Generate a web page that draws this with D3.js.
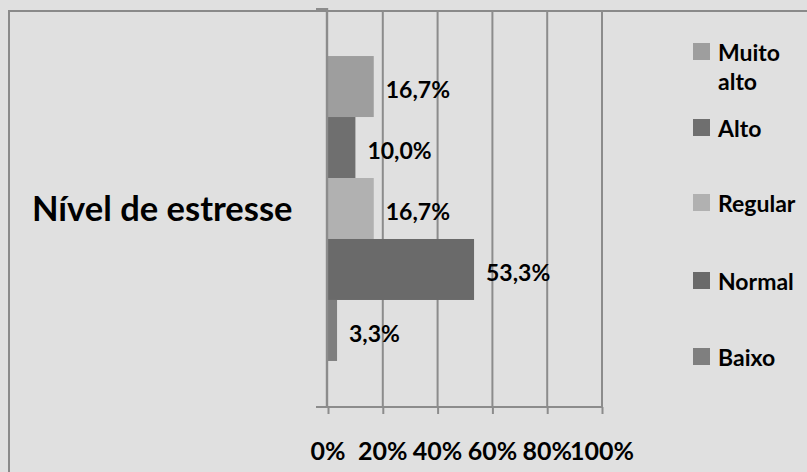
<!DOCTYPE html>
<html>
<head>
<meta charset="utf-8">
<script src="https://cdn.jsdelivr.net/npm/d3@7/dist/d3.min.js"></script>
<style>
  html, body { margin: 0; padding: 0; background: #e0e0e0; }
  svg { display: block; }
  text { font-family: Lato, "Open Sans", sans-serif; font-weight: bold; fill: #000; }
</style>
</head>
<body>
<svg id="chart" width="807" height="472"></svg>
<script>
// Stress level distribution (one category, five series)
const category = "Nível de estresse";
const seriesNames = ["Muito alto", "Alto", "Regular", "Normal", "Baixo"];
const seriesValues = [16.7, 10.0, 16.7, 53.3, 3.3];
const seriesColors = ["#9e9e9e", "#6f6f6f", "#b1b1b1", "#6a6a6a", "#7f7f7f"];
const tickValues = [0, 20, 40, 60, 80, 100];

const W = 807, H = 472;
const plot = { left: 327, right: 602, top: 10, bottom: 407 };

const svg = d3.select("#chart");

// background and outer frame (top and left edges visible)
svg.append("rect").attr("width", W).attr("height", H).attr("fill", "#e0e0e0");
svg.append("path")
  .attr("d", `M9,${H} V11 H${W}`)
  .attr("fill", "none").attr("stroke", "#8a8a8a").attr("stroke-width", 2);

const x = d3.scaleLinear().domain([0, 100]).range([plot.left + 1, plot.right]);
const y0 = d3.scaleBand().domain([category]).range([plot.top, plot.bottom])
  .paddingInner(0).paddingOuter(0.151);
const y1 = d3.scaleBand().domain(seriesNames).range([0, y0.bandwidth()]);

// vertical gridlines
svg.append("g").selectAll("line")
  .data(tickValues.filter(t => t > 0))
  .join("line")
  .attr("x1", d => x(d)).attr("x2", d => x(d))
  .attr("y1", plot.top).attr("y2", plot.bottom)
  .attr("stroke", "#8c8c8c").attr("stroke-width", 2);

// bars
const gBars = svg.append("g").attr("transform", `translate(0,${y0(category)})`);
gBars.selectAll("rect")
  .data(seriesNames.map((n, i) => ({ name: n, value: seriesValues[i], color: seriesColors[i] })))
  .join("rect")
  .attr("x", x(0))
  .attr("y", d => y1(d.name))
  .attr("width", d => x(d.value) - x(0))
  .attr("height", y1.bandwidth())
  .attr("fill", d => d.color);

// value labels
const fmt = v => v.toFixed(1).replace(".", ",") + "%";
gBars.selectAll("text")
  .data(seriesNames.map((n, i) => ({ name: n, value: seriesValues[i] })))
  .join("text")
  .attr("x", d => x(d.value) + 12)
  .attr("y", d => y1(d.name) + y1.bandwidth() / 2 + 11.5)
  .attr("font-size", 23)
  .text(d => fmt(d.value));

// horizontal value axis
const xAxis = d3.axisBottom(x).tickValues(tickValues).tickSize(7).tickFormat("");
const gx = svg.append("g").attr("transform", `translate(0,${plot.bottom})`).call(xAxis);
gx.select(".domain").remove();
gx.selectAll(".tick line").attr("stroke", "#8c8c8c").attr("stroke-width", 2);
svg.append("line")
  .attr("x1", plot.left - 11).attr("x2", plot.right + 1)
  .attr("y1", plot.bottom).attr("y2", plot.bottom)
  .attr("stroke", "#8c8c8c").attr("stroke-width", 2);
svg.append("g").selectAll("text")
  .data(tickValues)
  .join("text")
  .attr("x", d => x(d))
  .attr("y", 460)
  .attr("text-anchor", "middle")
  .attr("font-size", 25)
  .text(d => d + "%");

// vertical category axis with boundary ticks
svg.append("line")
  .attr("x1", plot.left).attr("x2", plot.left)
  .attr("y1", plot.top - 2).attr("y2", plot.bottom + 1)
  .attr("stroke", "#8c8c8c").attr("stroke-width", 2.4);
svg.append("line")
  .attr("x1", plot.left - 11).attr("x2", plot.left)
  .attr("y1", plot.top - 1).attr("y2", plot.top - 1)
  .attr("stroke", "#8c8c8c").attr("stroke-width", 2);

// category label
svg.append("text")
  .attr("x", 32)
  .attr("y", 221)
  .attr("font-size", 34.5)
  .text(category);

// legend
const legendBaselines = [61, 137, 212, 290, 366];
const lg = svg.append("g");
seriesNames.forEach((n, i) => {
  const base = legendBaselines[i];
  lg.append("rect")
    .attr("x", 693).attr("y", base - 18)
    .attr("width", 17).attr("height", 17)
    .attr("fill", seriesColors[i]);
  const words = n === "Muito alto" ? ["Muito", "alto"] : [n];
  words.forEach((w, j) => {
    lg.append("text")
      .attr("x", 718).attr("y", base + j * 29)
      .attr("font-size", 23)
      .text(w);
  });
});
</script>
</body>
</html>
